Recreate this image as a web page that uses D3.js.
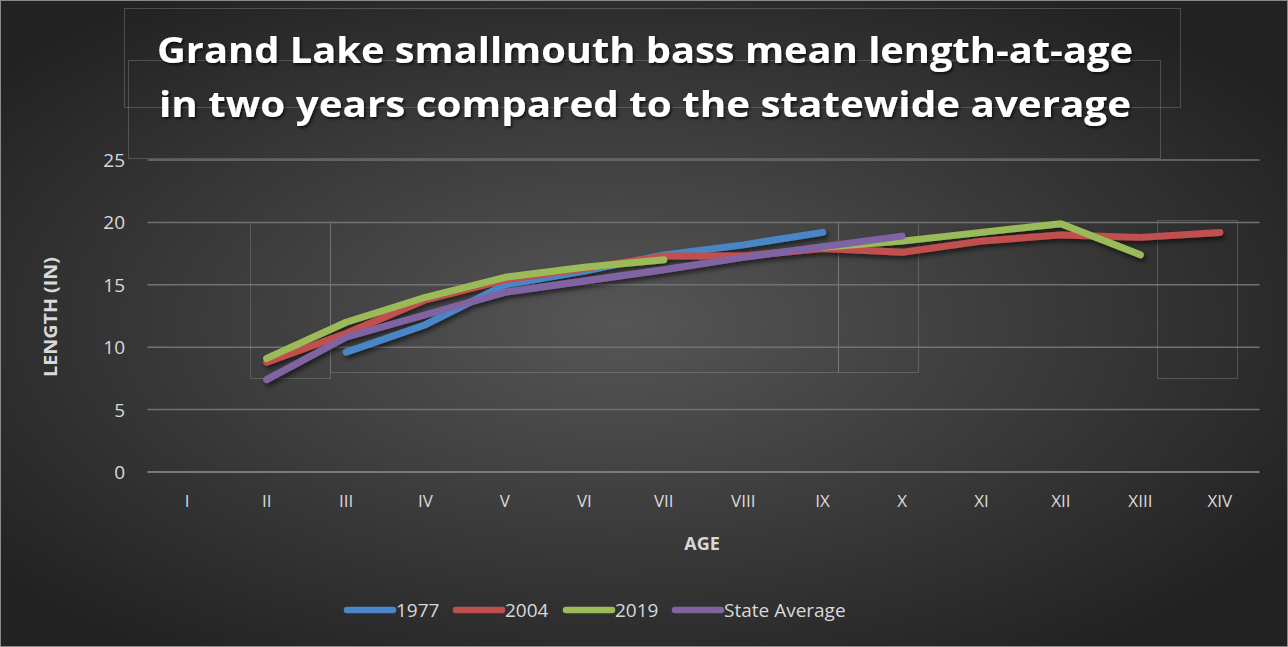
<!DOCTYPE html>
<html><head><meta charset="utf-8">
<script src="https://cdn.jsdelivr.net/npm/d3@7"></script>
<style>html,body{margin:0;padding:0;background:#2a2a2a;}svg{display:block;}</style>
</head><body>
<svg id="chart" width="1288" height="647"></svg>
<script>
const ages = ["I","II","III","IV","V","VI","VII","VIII","IX","X","XI","XII","XIII","XIV"];
const v1977 = [null,null,9.6,11.8,15.0,16.1,17.4,18.2,19.2,null,null,null,null,null];
const v2004 = [null,8.8,11.1,13.8,15.4,16.3,17.3,17.3,17.9,17.6,18.5,19.0,18.8,19.2];
const v2019 = [null,9.1,12.0,14.0,15.6,16.4,17.0,null,18.0,18.5,19.2,19.9,17.4,null];
const vState = [null,7.4,10.8,12.6,14.4,15.3,16.2,17.2,18.05,18.9,null,null,null,null];
const yTicks = [0,5,10,15,20,25];
const seriesNames = ["1977","2004","2019","State Average"];
const seriesColors = ["#4a86c8","#c0504d","#9bbb59","#8064a2"];
const seriesValues = [v1977, v2004, v2019, vState];

const svg = d3.select("#chart");
const W = 1288, H = 647;
const defs = svg.append("defs");
const rg = defs.append("radialGradient").attr("id","bg").attr("cx","48%").attr("cy","50%").attr("r","62%");
rg.append("stop").attr("offset","0%").attr("stop-color","#565656");
rg.append("stop").attr("offset","100%").attr("stop-color","#222222");
const sh = defs.append("filter").attr("id","shadow").attr("x","-10%").attr("y","-10%").attr("width","130%").attr("height","130%");
sh.append("feDropShadow").attr("dx",2).attr("dy",3).attr("stdDeviation",2.5).attr("flood-color","#000").attr("flood-opacity",0.6);
const tsh = defs.append("filter").attr("id","tshadow");
tsh.append("feDropShadow").attr("dx",1.5).attr("dy",2).attr("stdDeviation",1.5).attr("flood-color","#000").attr("flood-opacity",0.7);

svg.append("rect").attr("width",W).attr("height",H).attr("fill","url(#bg)");
svg.append("rect").attr("x",0.5).attr("y",0.5).attr("width",W-1).attr("height",H-1).attr("fill","none").attr("stroke","#8a8a8a").attr("stroke-width",1);

// faint stray frames seen in the reference
const frames = [[124,8,1056,99],[128,60,1032,98],[250,222,80,156],[330,222,508,150],[838,222,80,150],[1157,220,80,158]];
svg.append("g").selectAll("rect").data(frames).join("rect")
  .attr("x",d=>d[0]+0.5).attr("y",d=>d[1]+0.5).attr("width",d=>d[2]).attr("height",d=>d[3])
  .attr("fill","none").attr("stroke","#9a9a9a").attr("stroke-opacity",0.35).attr("stroke-width",1);

const x = d3.scaleBand().domain(ages).range([147.5,1259.5]);
const y = d3.scaleLinear().domain([0,25]).range([472,160]);

// gridlines
svg.append("g").selectAll("line").data(yTicks).join("line")
  .attr("x1",147.5).attr("x2",1259.5).attr("y1",d=>y(d)).attr("y2",d=>y(d))
  .attr("stroke",d=>d===0?"#7a7a7a":"#727272").attr("stroke-width",d=>d===0?2:1.5);

// y axis labels
const yAxis = d3.axisLeft(y).tickValues(yTicks).tickSize(0).tickPadding(0);
const yg = svg.append("g").attr("transform","translate(125,0)").call(yAxis);
yg.select(".domain").remove();
yg.selectAll("text").attr("fill","#d9d9d9").attr("font-family","'Open Sans', sans-serif").attr("font-size",19).attr("dy","0.34em");

// x axis labels
const xAxis = d3.axisBottom(x).tickSize(0).tickPadding(0);
const xg = svg.append("g").attr("transform","translate(0,494)").call(xAxis);
xg.select(".domain").remove();
xg.selectAll("text").attr("fill","#d9d9d9").attr("font-family","'Open Sans', sans-serif").attr("font-size",17).attr("dy","0.75em");

// axis titles
svg.append("text").attr("x",702).attr("y",550).attr("text-anchor","middle")
  .attr("fill","#d9d9d9").attr("font-family","'Open Sans', sans-serif").attr("font-weight","bold").attr("font-size",18).text("AGE");
svg.append("text").attr("transform","translate(57,317) rotate(-90)").attr("text-anchor","middle")
  .attr("fill","#d9d9d9").attr("font-family","'Open Sans', sans-serif").attr("font-weight","bold").attr("font-size",18)
  .attr("textLength",120).attr("lengthAdjust","spacingAndGlyphs").text("LENGTH (IN)");

// lines
const line = d3.line().defined(d=>d.v!==null).x(d=>x(d.a)+x.bandwidth()/2).y(d=>y(d.v));
const lg = svg.append("g").attr("filter","url(#shadow)");
seriesValues.forEach((vals,i)=>{
  const pts = ages.map((a,j)=>({a:a,v:vals[j]}));
  lg.append("path").attr("d",line(pts)).attr("fill","none").attr("stroke",seriesColors[i])
    .attr("stroke-width",7).attr("stroke-linecap","round").attr("stroke-linejoin","round");
});

// title
const title = svg.append("g").attr("filter","url(#tshadow)");
[["Grand Lake smallmouth bass mean length-at-age",63,976],["in two years compared to the statewide average",117,972]].forEach(t=>{
  title.append("text").attr("x",645).attr("y",t[1]).attr("text-anchor","middle")
    .attr("fill","#ffffff").attr("font-family","'Open Sans', sans-serif").attr("font-weight","bold").attr("font-size",35)
    .attr("textLength",t[2]).attr("lengthAdjust","spacingAndGlyphs").text(t[0]);
});

// legend
const legX = [347,456,566,675];
const leg = svg.append("g");
seriesNames.forEach((n,i)=>{
  leg.append("line").attr("x1",legX[i]).attr("x2",legX[i]+46).attr("y1",610).attr("y2",610)
    .attr("stroke",seriesColors[i]).attr("stroke-width",6.5).attr("stroke-linecap","round");
  leg.append("text").attr("x",legX[i]+49).attr("y",617).attr("fill","#d9d9d9")
    .attr("font-family","'Open Sans', sans-serif").attr("font-size",19).text(n);
});
</script>
</body></html>
